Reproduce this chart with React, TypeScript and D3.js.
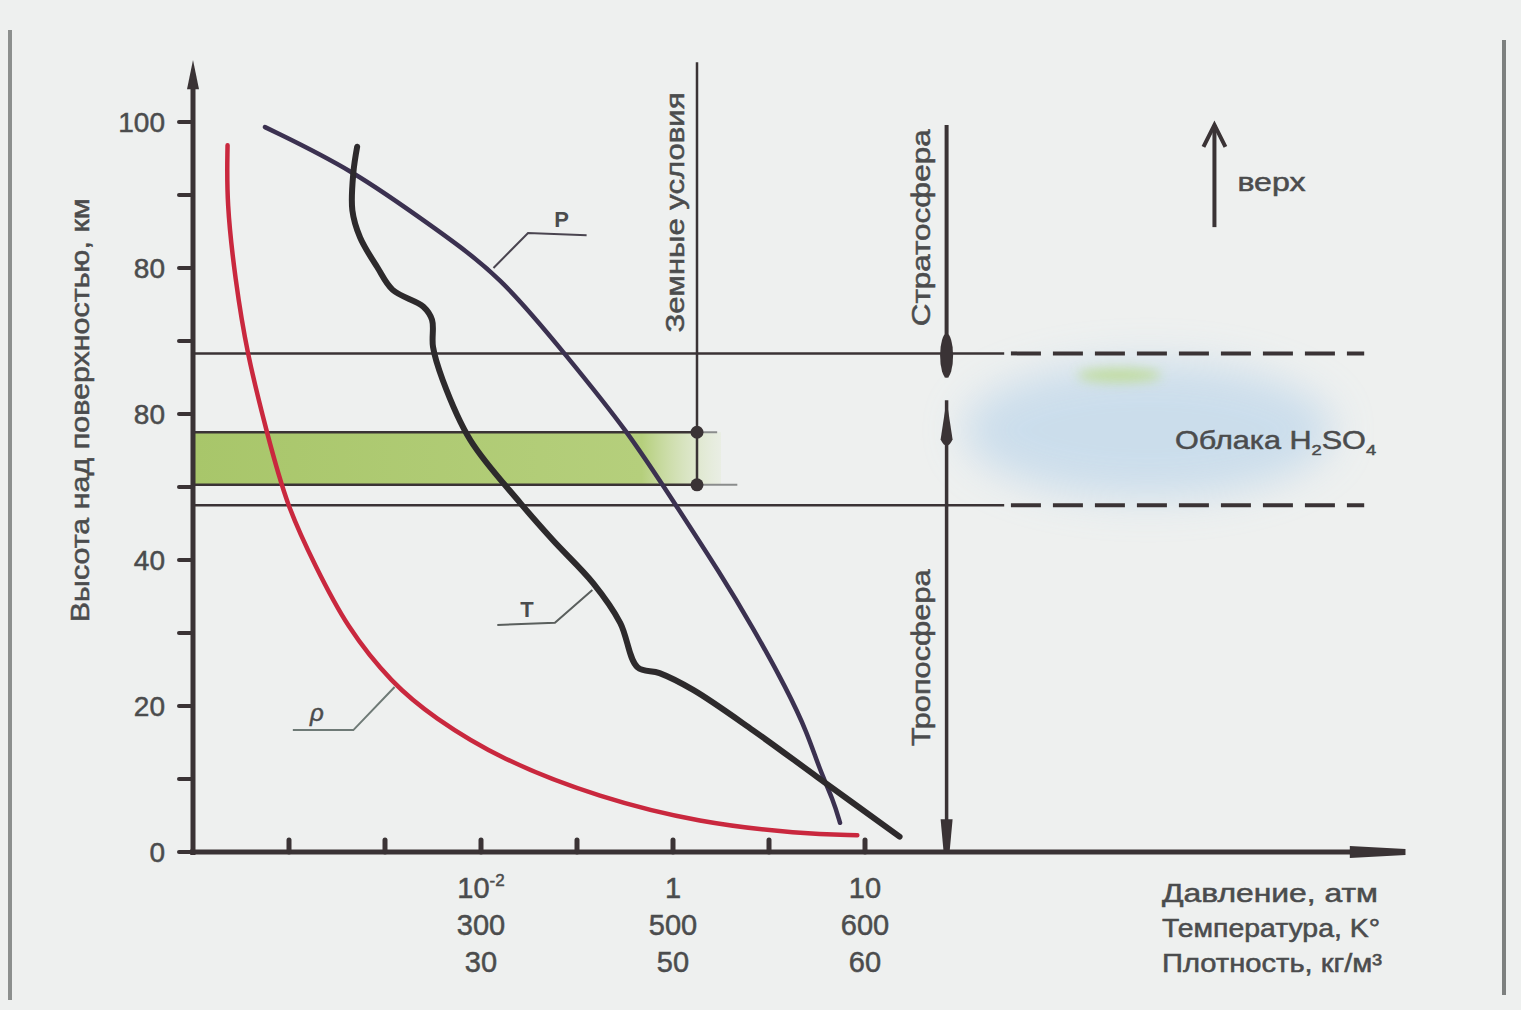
import React from "react";
import * as d3 from "d3";

// altitude (km) vs. position along the combined horizontal axis (tick units)
const densityCurve: [number, number][] = [
  [0.36, 96.8], [0.35, 88.9], [0.44, 78.4], [0.56, 68.4], [0.77, 57.4],
  [0.98, 47.3], [1.27, 39.3], [1.6, 30.8], [2.08, 23.0], [2.5, 18.5],
  [3.2, 12.7], [4.24, 7.4], [5.28, 4.0], [6.32, 2.5], [6.92, 2.3],
];
const pressureCurve: [number, number][] = [
  [0.75, 99.3], [1.67, 93.4], [2.5, 85.6], [3.2, 79.0], [3.9, 67.8],
  [4.52, 57.8], [5.04, 47.3], [5.49, 38.2], [5.83, 30.8], [6.19, 22.2],
  [6.4, 16.3], [6.53, 11.2], [6.67, 7.1], [6.74, 4.0],
];
const temperatureCurve: [number, number][] = [
  [1.71, 96.6], [1.67, 93.0], [1.66, 87.9], [1.74, 84.2], [1.92, 80.1],
  [2.08, 77.0], [2.4, 74.7], [2.49, 72.9], [2.5, 69.2], [2.6, 64.7],
  [2.89, 56.4], [3.41, 47.8], [3.75, 42.7], [4.17, 36.8], [4.45, 31.4],
  [4.63, 25.3], [4.86, 24.5], [5.21, 22.2], [5.83, 16.7], [6.5, 10.3],
  [7.36, 2.1],
];

const yTickValues = [0, 20, 40, 60, 80, 100];
const yTickLabels = ["0", "20", "40", "80", "80", "100"];
const yMinorTicks = [10, 30, 50, 70, 90];
const xTickPositions = [1, 2, 3, 4, 5, 6, 7];
const xLabelPositions = [3, 5, 7];
const pressureLabels = ["10", "1", "10"];
const temperatureLabels = ["300", "500", "600"];
const densityLabels = ["30", "50", "60"];
const axisTitles = ["Давление, атм", "Температура, K°", "Плотность, кг/м³"];
const axisTitleWidths = [216, 218, 220];

// layer boundaries (km)
const cloudTop = 68.3;
const greenTop = 57.5;
const greenBottom = 50.3;
const cloudBottom = 47.5;

const W = 1521;
const H = 1010;
const font = "'Liberation Sans', Arial, sans-serif";
const textColor = "#4b4c4d";
const ink = "#3a3335";

const textStyle = {
  fill: textColor,
  stroke: textColor,
  strokeWidth: 0.5,
};

export default function App() {
  const x = d3.scaleLinear().domain([0, 10]).range([193, 1153]);
  const y = d3.scaleLinear().domain([0, 100]).range([852, 122]);

  const smooth = d3
    .line<[number, number]>()
    .x((d) => x(d[0]))
    .y((d) => y(d[1]))
    .curve(d3.curveBasis);
  const through = d3
    .line<[number, number]>()
    .x((d) => x(d[0]))
    .y((d) => y(d[1]))
    .curve(d3.curveCatmullRom.alpha(0.5));

  const x0 = x(0);
  const y0 = y(0);
  const xEarth = x(5.25);
  const xLayer = x(7.85);
  const xUp = x(10.64);

  const leader = (pts: [number, number][]) =>
    d3.line<[number, number]>().x((d) => x(d[0])).y((d) => y(d[1]))(pts) || "";

  return (
    <svg
      width={W}
      height={H}
      style={{ position: "absolute", left: 0, top: 0 }}
      fontFamily={font}
    >
      <defs>
        <linearGradient id="greenBand" x1="0" x2="1" y1="0" y2="0">
          <stop offset="0" stopColor="#a8c66a" />
          <stop offset="0.85" stopColor="#b5cf7c" />
          <stop offset="1" stopColor="#d6e4b8" stopOpacity="0.2" />
        </linearGradient>
        <filter id="blur" x="-30%" y="-60%" width="160%" height="220%">
          <feGaussianBlur stdDeviation="20" />
        </filter>
        <filter id="blurSmall" x="-50%" y="-200%" width="200%" height="500%">
          <feGaussianBlur stdDeviation="6" />
        </filter>
      </defs>

      <rect width={W} height={H} fill="#eef0ef" />
      <line x1={10} x2={10} y1={30} y2={1000} stroke="#8c8f8e" strokeWidth={4} />
      <line x1={1504} x2={1504} y1={40} y2={995} stroke="#7d807f" strokeWidth={4} />

      {/* sulphuric acid cloud */}
      <ellipse
        cx={x(9.95)}
        cy={y(57.8)}
        rx={185}
        ry={68}
        fill="#c3d9eb"
        opacity={0.8}
        filter="url(#blur)"
      />
      <ellipse
        cx={x(9.65)}
        cy={y(65.3)}
        rx={42}
        ry={7}
        fill="#bedc92"
        opacity={0.85}
        filter="url(#blurSmall)"
      />

      {/* green band */}
      <rect
        x={x0}
        y={y(greenTop)}
        width={x(5.5) - x0}
        height={y(greenBottom) - y(greenTop)}
        fill="url(#greenBand)"
      />

      {/* horizontal layer lines */}
      <line x1={x0} x2={x(8.45)} y1={y(cloudTop)} y2={y(cloudTop)} stroke={ink} strokeWidth={2.5} />
      <line x1={x0} x2={x(8.45)} y1={y(cloudBottom)} y2={y(cloudBottom)} stroke={ink} strokeWidth={2.5} />
      <line
        x1={x(8.52)}
        x2={x(12.2)}
        y1={y(cloudTop)}
        y2={y(cloudTop)}
        stroke={ink}
        strokeWidth={4}
        strokeDasharray="30 12"
      />
      <line
        x1={x(8.52)}
        x2={x(12.2)}
        y1={y(cloudBottom)}
        y2={y(cloudBottom)}
        stroke={ink}
        strokeWidth={4}
        strokeDasharray="30 12"
      />
      <line x1={x0} x2={xEarth} y1={y(greenTop)} y2={y(greenTop)} stroke={ink} strokeWidth={2.5} />
      <line x1={x0} x2={xEarth} y1={y(greenBottom)} y2={y(greenBottom)} stroke={ink} strokeWidth={2.5} />
      <line x1={xEarth} x2={x(5.46)} y1={y(greenTop)} y2={y(greenTop)} stroke="#8a8c8c" strokeWidth={2} />
      <line x1={xEarth} x2={x(5.67)} y1={y(greenBottom)} y2={y(greenBottom)} stroke="#8a8c8c" strokeWidth={2} />

      {/* "earth conditions" marker */}
      <line x1={xEarth} x2={xEarth} y1={y(108.2)} y2={y(greenBottom)} stroke={ink} strokeWidth={2.5} />
      <circle cx={xEarth} cy={y(greenTop)} r={6.5} fill={ink} />
      <circle cx={xEarth} cy={y(greenBottom)} r={6.5} fill={ink} />
      <text
        transform={`translate(${xEarth - 13},${y(87.6)}) rotate(-90)`}
        textAnchor="middle"
        fontSize={25}
        textLength={240}
        lengthAdjust="spacingAndGlyphs"
        style={textStyle}
      >
        Земные условия
      </text>

      {/* stratosphere / troposphere markers */}
      <line x1={xLayer} x2={xLayer} y1={y(99.6)} y2={y(65)} stroke={ink} strokeWidth={4} />
      <ellipse cx={xLayer} cy={y(68)} rx={6.5} ry={22} fill={ink} />
      <line x1={xLayer} x2={xLayer} y1={y(61.9)} y2={y0} stroke={ink} strokeWidth={3.5} />
      <path
        d={`M${xLayer},${y(61.9)} L${xLayer + 6},${y(56.5)} Q${xLayer},${y(54.8)} ${xLayer - 6},${y(56.5)} Z`}
        fill={ink}
      />
      <path
        d={`M${xLayer - 6},${y(4.5)} L${xLayer + 6},${y(4.5)} L${xLayer + 3},${y0} L${xLayer - 3},${y0} Z`}
        fill={ink}
      />
      <text
        transform={`translate(${xLayer - 17},${y(85.5)}) rotate(-90)`}
        textAnchor="middle"
        fontSize={25}
        textLength={197}
        lengthAdjust="spacingAndGlyphs"
        style={textStyle}
      >
        Стратосфера
      </text>
      <text
        transform={`translate(${xLayer - 17},${y(26.6)}) rotate(-90)`}
        textAnchor="middle"
        fontSize={25}
        textLength={177}
        lengthAdjust="spacingAndGlyphs"
        style={textStyle}
      >
        Тропосфера
      </text>

      {/* up arrow */}
      <line x1={xUp} x2={xUp} y1={y(85.6)} y2={y(99.6)} stroke={ink} strokeWidth={4} />
      <path
        d={`M${xUp - 11},${y(96.6)} L${xUp},${y(99.6)} L${xUp + 11},${y(96.6)}`}
        fill="none"
        stroke={ink}
        strokeWidth={4}
      />
      <text
        x={xUp + 23}
        y={y(90.5)}
        fontSize={25}
        textLength={68}
        lengthAdjust="spacingAndGlyphs"
        style={textStyle}
      >
        верх
      </text>

      <text
        x={x(10.23)}
        y={y(55.2)}
        fontSize={25}
        textLength={201}
        lengthAdjust="spacingAndGlyphs"
        style={textStyle}
      >
        Облака H
        <tspan fontSize={15} dy={6}>2</tspan>
        <tspan dy={-6}>SO</tspan>
        <tspan fontSize={15} dy={6}>4</tspan>
      </text>

      {/* curves */}
      <path d={smooth(densityCurve) || ""} fill="none" stroke="#c9283e" strokeWidth={4.5} strokeLinecap="round" />
      <path d={smooth(pressureCurve) || ""} fill="none" stroke="#3b3150" strokeWidth={4.5} strokeLinecap="round" />
      <path d={through(temperatureCurve) || ""} fill="none" stroke="#2d2a2c" strokeWidth={6} strokeLinecap="round" />

      {/* curve labels */}
      <path d={leader([[3.13, 80.0], [3.49, 84.8], [4.1, 84.5]])} fill="none" stroke="#4a4550" strokeWidth={2} />
      <text x={x(3.84)} y={y(85.6)} textAnchor="middle" fontSize={22} fontWeight="bold" fill={textColor}>
        P
      </text>
      <path d={leader([[4.16, 35.9], [3.77, 31.4], [3.17, 31.1]])} fill="none" stroke="#5a5f5d" strokeWidth={2} />
      <text x={x(3.48)} y={y(32.2)} textAnchor="middle" fontSize={22} fontWeight="bold" fill={textColor}>
        T
      </text>
      <path d={leader([[2.1, 22.6], [1.67, 16.7], [1.04, 16.7]])} fill="none" stroke="#6e7a76" strokeWidth={2} />
      <text x={x(1.29)} y={y(17.9)} textAnchor="middle" fontSize={24} fontStyle="italic" style={textStyle}>
        ρ
      </text>

      {/* y axis */}
      <line x1={x0} x2={x0} y1={y0 + 3} y2={y(106)} stroke={ink} strokeWidth={5} />
      <path d={`M${x0 - 6},${y(104.5)} L${x0},${y(108.5)} L${x0 + 6},${y(104.5)} Z`} fill={ink} />
      {yTickValues.concat(yMinorTicks).map((v) => (
        <line key={v} x1={x0 - 14} x2={x0} y1={y(v)} y2={y(v)} stroke={ink} strokeWidth={4} strokeLinecap="round" />
      ))}
      {yTickValues.map((v, i) => (
        <text key={v} x={x0 - 28} y={y(v)} dy="0.36em" textAnchor="end" fontSize={28} style={textStyle}>
          {yTickLabels[i]}
        </text>
      ))}
      <text
        transform={`translate(89,${y(60.5)}) rotate(-90)`}
        textAnchor="middle"
        fontSize={26}
        textLength={424}
        lengthAdjust="spacingAndGlyphs"
        style={textStyle}
      >
        Высота над поверхностью, км
      </text>

      {/* x axis */}
      <line x1={x0 - 3} x2={x(12.1)} y1={y0} y2={y0} stroke={ink} strokeWidth={5} />
      <path
        d={`M${x(12.05)},${y0 - 6} L${x(12.63)},${y0 - 3} L${x(12.63)},${y0 + 3} L${x(12.05)},${y0 + 6} Z`}
        fill={ink}
      />
      {xTickPositions.map((p) => (
        <line key={p} x1={x(p)} x2={x(p)} y1={y0} y2={y0 - 12} stroke={ink} strokeWidth={5} strokeLinecap="round" />
      ))}
      {xLabelPositions.map((p, i) => (
        <g key={p} fontSize={29} textAnchor="middle" style={textStyle}>
          <text x={x(p)} y={898}>
            {pressureLabels[i]}
            {i === 0 ? (
              <tspan fontSize={17} dy={-12}>-2</tspan>
            ) : null}
          </text>
          <text x={x(p)} y={935}>{temperatureLabels[i]}</text>
          <text x={x(p)} y={972}>{densityLabels[i]}</text>
        </g>
      ))}
      {axisTitles.map((t, i) => (
        <text
          key={t}
          x={1162}
          y={902 + i * 35}
          fontSize={25}
          textLength={axisTitleWidths[i]}
          lengthAdjust="spacingAndGlyphs"
          style={textStyle}
        >
          {t}
        </text>
      ))}
    </svg>
  );
}
